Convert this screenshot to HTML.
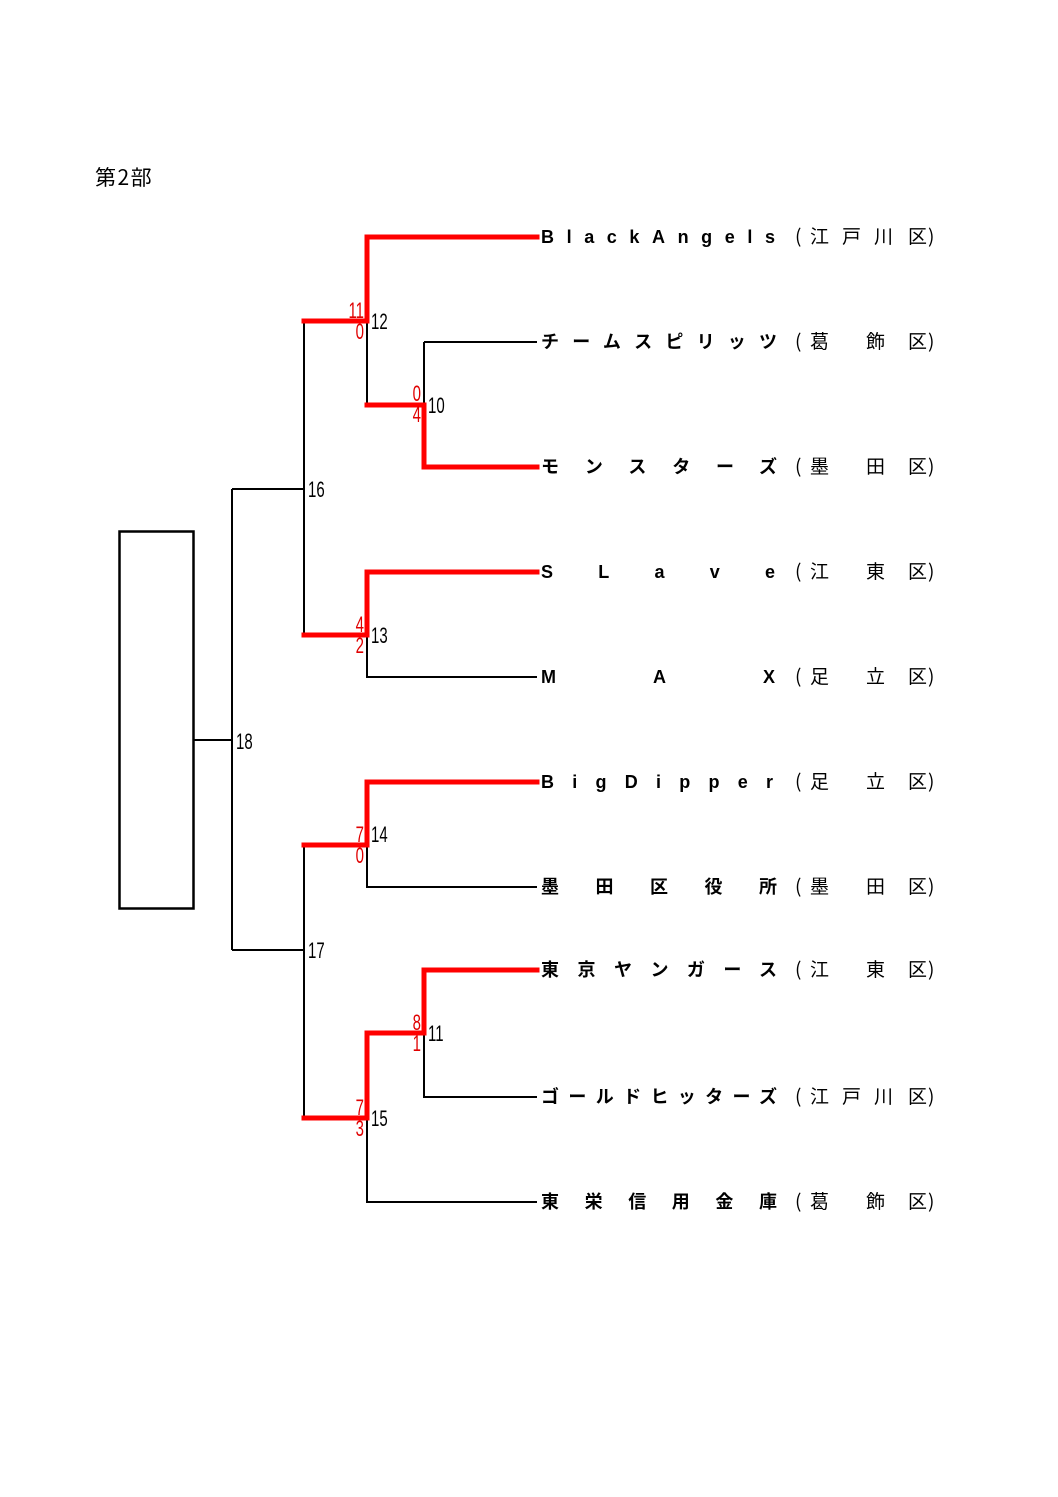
<!DOCTYPE html>
<html><head><meta charset="utf-8"><style>
html,body{margin:0;padding:0;background:#fff;}
svg{display:block;}
.t{font-family:"Liberation Sans","Noto Sans CJK JP",sans-serif;font-weight:bold;font-size:18px;fill:#000;}
.d{font-family:"Noto Sans CJK JP",sans-serif;font-size:19px;fill:#000;}
.n{font-family:"Liberation Sans",sans-serif;font-size:22px;fill:#000;}
.r{font-family:"Liberation Sans",sans-serif;font-size:22px;fill:#e00000;}
</style></head><body>
<svg width="1058" height="1497" viewBox="0 0 1058 1497" xmlns="http://www.w3.org/2000/svg">
<text x="95" y="185" class="d" style="font-size:21px;letter-spacing:1.5px">第2部</text>
<rect x="119.5" y="531.5" width="74" height="377" fill="none" stroke="#000" stroke-width="2.5"/>
<g stroke="#000" stroke-width="2" fill="none">
<path d="M193 740H232M232 489V950M232 489H304M232 950H304"/>
<path d="M304 321V635M304 845V1118"/>
<path d="M367 321V405M424 342V405M424 342H537"/>
<path d="M367 635V677H537"/>
<path d="M367 845V887H537"/>
<path d="M424 1033V1097H537"/>
<path d="M367 1118V1202H537"/>
</g>
<g stroke="#ff0000" stroke-width="5" fill="none" stroke-linecap="square">
<path d="M304 321H367V237H537"/>
<path d="M367 405H424V467H537"/>
<path d="M304 635H367V572H537"/>
<path d="M304 845H367V782H537"/>
<path d="M304 1118H367V1033H424V970H537"/>
</g>
<g class="n">
<text transform="translate(371,329) scale(0.68,1)">12</text>
<text transform="translate(428,413) scale(0.68,1)">10</text>
<text transform="translate(308,497) scale(0.68,1)">16</text>
<text transform="translate(371,643) scale(0.68,1)">13</text>
<text transform="translate(236,749) scale(0.68,1)">18</text>
<text transform="translate(371,842) scale(0.68,1)">14</text>
<text transform="translate(308,958) scale(0.68,1)">17</text>
<text transform="translate(428,1041) scale(0.68,1)">11</text>
<text transform="translate(371,1126) scale(0.68,1)">15</text>
</g>
<g class="r" text-anchor="end">
<text transform="translate(364,318) scale(0.68,1)">11</text>
<text transform="translate(364,339) scale(0.68,1)">0</text>
<text transform="translate(421,401) scale(0.68,1)">0</text>
<text transform="translate(421,422) scale(0.68,1)">4</text>
<text transform="translate(364,632) scale(0.68,1)">4</text>
<text transform="translate(364,653) scale(0.68,1)">2</text>
<text transform="translate(364,842) scale(0.68,1)">7</text>
<text transform="translate(364,863) scale(0.68,1)">0</text>
<text transform="translate(421,1030) scale(0.68,1)">8</text>
<text transform="translate(421,1051) scale(0.68,1)">1</text>
<text transform="translate(364,1115) scale(0.68,1)">7</text>
<text transform="translate(364,1136) scale(0.68,1)">3</text>
</g>
<g class="t">
<text x="541" y="243" textLength="234" lengthAdjust="spacing">BlackAngels</text>
<text x="541" y="348" textLength="236" lengthAdjust="spacing">チームスピリッツ</text>
<text x="541" y="473" textLength="236" lengthAdjust="spacing">モンスターズ</text>
<text x="541" y="578" textLength="234" lengthAdjust="spacing">SLave</text>
<text x="541" y="683" textLength="234" lengthAdjust="spacing">MAX</text>
<text x="541" y="788" textLength="232" lengthAdjust="spacing">BigDipper</text>
<text x="541" y="893" textLength="236" lengthAdjust="spacing">墨田区役所</text>
<text x="541" y="976" textLength="236" lengthAdjust="spacing">東京ヤンガース</text>
<text x="541" y="1103" textLength="236" lengthAdjust="spacing">ゴールドヒッターズ</text>
<text x="541" y="1208" textLength="236" lengthAdjust="spacing">東栄信用金庫</text>
</g>
<g class="d">
<g transform="translate(0,243)"><text x="795">(</text><text x="810">江</text><text x="842">戸</text><text x="874">川</text><text x="908">区</text><text x="928">)</text></g>
<g transform="translate(0,348)"><text x="795">(</text><text x="810">葛</text><text x="866">飾</text><text x="908">区</text><text x="928">)</text></g>
<g transform="translate(0,473)"><text x="795">(</text><text x="810">墨</text><text x="866">田</text><text x="908">区</text><text x="928">)</text></g>
<g transform="translate(0,578)"><text x="795">(</text><text x="810">江</text><text x="866">東</text><text x="908">区</text><text x="928">)</text></g>
<g transform="translate(0,683)"><text x="795">(</text><text x="810">足</text><text x="866">立</text><text x="908">区</text><text x="928">)</text></g>
<g transform="translate(0,788)"><text x="795">(</text><text x="810">足</text><text x="866">立</text><text x="908">区</text><text x="928">)</text></g>
<g transform="translate(0,893)"><text x="795">(</text><text x="810">墨</text><text x="866">田</text><text x="908">区</text><text x="928">)</text></g>
<g transform="translate(0,976)"><text x="795">(</text><text x="810">江</text><text x="866">東</text><text x="908">区</text><text x="928">)</text></g>
<g transform="translate(0,1103)"><text x="795">(</text><text x="810">江</text><text x="842">戸</text><text x="874">川</text><text x="908">区</text><text x="928">)</text></g>
<g transform="translate(0,1208)"><text x="795">(</text><text x="810">葛</text><text x="866">飾</text><text x="908">区</text><text x="928">)</text></g>
</g>
</svg>
</body></html>
